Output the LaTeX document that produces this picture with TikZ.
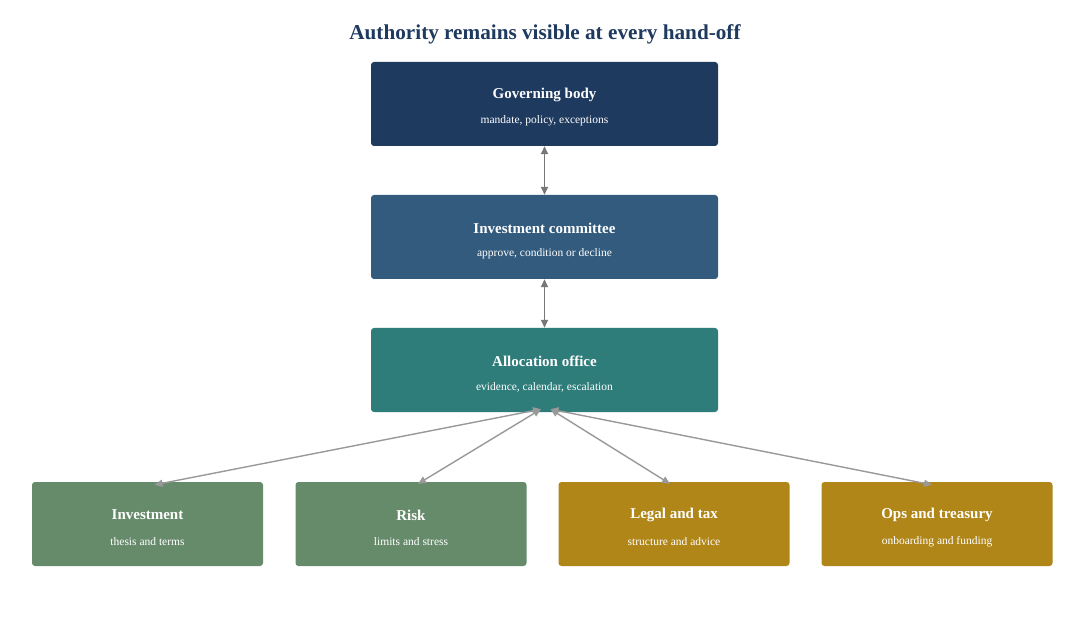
\documentclass[tikz,border=0pt]{standalone}
\usepackage{fontspec}
\setmainfont{Liberation Serif}
\usetikzlibrary{arrows.meta}
\definecolor{cgov}{HTML}{1F3A5F}
\definecolor{ccom}{HTML}{335B7E}
\definecolor{calloc}{HTML}{2E7D7A}
\definecolor{cgreen}{HTML}{668B6B}
\definecolor{cgold}{HTML}{B08619}
\definecolor{carrowd}{HTML}{777777}
\definecolor{carrowl}{HTML}{999999}
\tikzset{
  box/.style={rounded corners=3pt, inner sep=0pt, text=white, align=center},
  bigbox/.style={box, minimum width=347pt, minimum height=84pt},
  smallbox/.style={box, minimum width=231pt, minimum height=84pt},
  link/.style={draw=carrowd, line width=1.5pt, {Triangle[length=8pt,width=7pt]}-{Triangle[length=8pt,width=7pt]}},
  linkl/.style={draw=carrowl, line width=1.4pt, {Triangle[length=8pt,width=7pt]}-{Triangle[length=8pt,width=7pt]}},
  ttl/.style={font=\bfseries\fontsize{15}{18}\selectfont, text=white},
  sub/.style={font=\fontsize{11.5}{14}\selectfont, text=white}
}
\begin{document}
\begin{tikzpicture}[x=1pt,y=-1pt]
\useasboundingbox[fill=white] (0,0) rectangle (1090,620);
\node[font=\bfseries\fontsize{21.2}{25}\selectfont, text=cgov] (title) at (545,34) {Authority remains visible at every hand-off};

\node[bigbox, fill=cgov] (gov) at (544.5,104) {};
\node[ttl] (govt) at (544.5,95) {Governing body};
\node[sub] (govs) at (544.5,121) {mandate, policy, exceptions};

\node[bigbox, fill=ccom] (com) at (544.5,237) {};
\node[ttl] (comt) at (544.5,228) {Investment committee};
\node[sub] (coms) at (544.5,254) {approve, condition or decline};

\node[bigbox, fill=calloc] (alloc) at (544.5,370) {};
\node[ttl] (alloct) at (544.5,361) {Allocation office};
\node[sub] (allocs) at (544.5,387) {evidence, calendar, escalation};

\node[smallbox, fill=cgreen] (inv) at (147.5,524) {};
\node[ttl] (invt) at (147.5,515) {Investment};
\node[sub] (invs) at (147.5,542) {thesis and terms};

\node[smallbox, fill=cgreen] (risk) at (411,524) {};
\node[ttl] (riskt) at (411,515) {Risk};
\node[sub] (risks) at (411,542) {limits and stress};

\node[smallbox, fill=cgold] (legal) at (674,524) {};
\node[ttl] (legalt) at (674,515) {Legal and tax};
\node[sub] (legals) at (674,542) {structure and advice};

\node[smallbox, fill=cgold] (ops) at (937,524) {};
\node[ttl] (opst) at (937,515) {Ops and treasury};
\node[sub] (opss) at (937,542) {onboarding and funding};

\draw[link] (gov.south) -- (com.north);
\draw[link] (com.south) -- (alloc.north);

\draw[linkl] ([xshift=-3.5pt,yshift=3pt]alloc.south) -- ([xshift=7pt,yshift=-3pt]inv.north);
\draw[linkl] ([xshift=-3.5pt,yshift=3pt]alloc.south) -- ([xshift=7pt,yshift=-2pt]risk.north);
\draw[linkl] ([xshift=6pt,yshift=3pt]alloc.south) -- ([xshift=-4pt,yshift=-2pt]legal.north);
\draw[linkl] ([xshift=6pt,yshift=3pt]alloc.south) -- ([xshift=-5pt,yshift=-3pt]ops.north);
\end{tikzpicture}
\end{document}
